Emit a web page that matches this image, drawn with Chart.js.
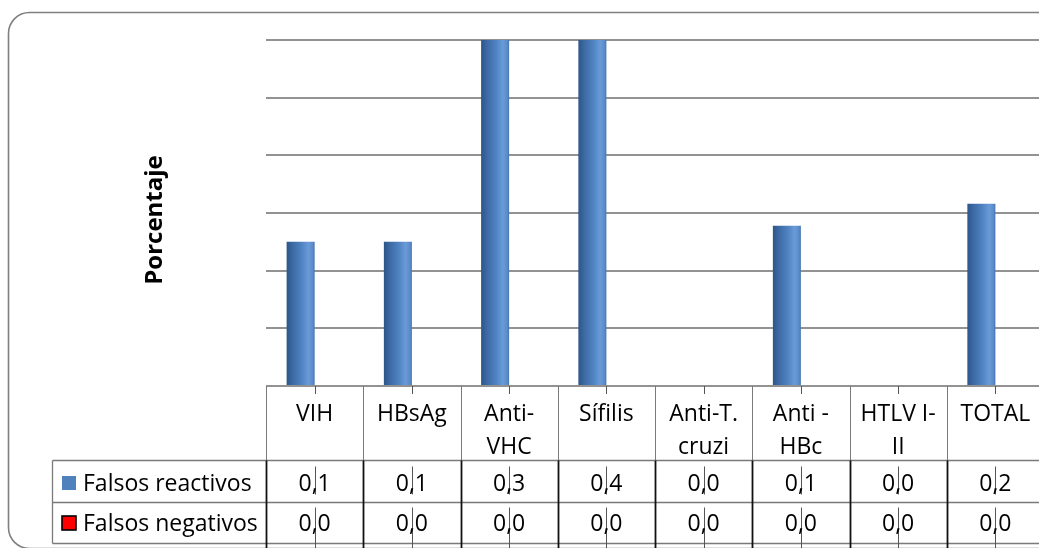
<!DOCTYPE html>
<html>
<head>
<meta charset="utf-8">
<script src="https://cdn.jsdelivr.net/npm/chart.js@4"></script>
<style>
  html, body { margin: 0; padding: 0; overflow: hidden; background: #fff; }
  #wrap { width: 1046px; height: 548px; }
</style>
</head>
<body>
<div id="wrap"><canvas id="chart" width="1046" height="548"></canvas></div>
<script>
// Categories (multi-line labels as shown in the table header)
const categories = [
  ['VIH'], ['HBsAg'], ['Anti-', 'VHC'], ['Sífilis'],
  ['Anti-T.', 'cruzi'], ['Anti -', 'HBc'], ['HTLV I-', 'II'], ['TOTAL']
];
// Percentages per test
const falsosReactivos = [0.125, 0.125, 0.32, 0.42, 0, 0.139, 0, 0.158];
const falsosNegativos = [0, 0, 0, 0, 0, 0, 0, 0];
const seriesNames = ['Falsos reactivos', 'Falsos negativos'];
const seriesColors = ['#4f81bd', '#ff0000'];
const yTitle = 'Porcentaje';
const yMin = 0, yMax = 0.3, yStep = 0.05;

const FONT = '"Open Sans", "Liberation Sans", sans-serif';
const CAT_PCT = 0.576;

// one decimal with a comma, as in the data table
const fmt = v => v.toFixed(1).replace('.', ',');

// cylinder-like horizontal shading for the blue bars
function barFill(c) {
  const chart = c.chart;
  const xs = chart.scales && chart.scales.x;
  if (!xs || c.type !== 'data' || !xs.width) return seriesColors[0];
  const cw = xs.width / categories.length;
  const bw = cw * CAT_PCT / 2;
  const cx = xs.getPixelForValue(c.dataIndex);
  const left = cx - bw;
  const g = chart.ctx.createLinearGradient(left, 0, left + bw, 0);
  g.addColorStop(0, '#2d5587');
  g.addColorStop(0.18, '#3a67a1');
  g.addColorStop(0.55, '#5184c3');
  g.addColorStop(0.78, '#6a9bd8');
  g.addColorStop(0.93, '#5b8bca');
  g.addColorStop(1, '#4574ad');
  return g;
}

const frame = {
  id: 'frame',
  beforeDraw(chart) {
    const ctx = chart.ctx;
    ctx.save();
    ctx.fillStyle = '#fff';
    ctx.fillRect(0, 0, chart.width, chart.height);
    ctx.strokeStyle = '#7f7f7f';
    ctx.lineWidth = 1.6;
    ctx.beginPath();
    ctx.roundRect(8.5, 12.5, 1060, 536, 21);
    ctx.stroke();
    ctx.restore();
  }
};

const dataTable = {
  id: 'dataTable',
  afterDraw(chart) {
    const ctx = chart.ctx;
    const xs = chart.scales.x;
    const area = chart.chartArea;
    const n = categories.length;
    const L = area.left, R = area.right, B = area.bottom;
    const cw = (R - L) / n;
    const headBottom = 460.5, row1Bottom = 502.5, row2Bottom = 543.5;
    const legLeft = 52.5;
    const W = chart.width, H = chart.height;

    ctx.save();
    // header row verticals
    ctx.strokeStyle = '#7a7a7a';
    ctx.lineWidth = 1;
    for (let i = 0; i <= n; i++) {
      const x = Math.round(L + i * cw) + 0.5;
      ctx.beginPath(); ctx.moveTo(x, B); ctx.lineTo(x, headBottom); ctx.stroke();
    }
    // centre ticks under the axis
    ctx.strokeStyle = '#555';
    for (let i = 0; i < n; i++) {
      const x = Math.round(xs.getPixelForValue(i)) + 0.5;
      ctx.beginPath(); ctx.moveTo(x, B); ctx.lineTo(x, B + 8); ctx.stroke();
    }
    // horizontals
    ctx.strokeStyle = '#7a7a7a';
    ctx.lineWidth = 1.3;
    [headBottom, row1Bottom, row2Bottom].forEach(y => {
      ctx.beginPath(); ctx.moveTo(legLeft, y); ctx.lineTo(W, y); ctx.stroke();
    });
    ctx.beginPath(); ctx.moveTo(legLeft, headBottom); ctx.lineTo(legLeft, row2Bottom); ctx.stroke();
    // value rows verticals
    ctx.strokeStyle = '#111';
    ctx.lineWidth = 1.8;
    for (let i = 0; i <= n; i++) {
      const x = Math.round(L + i * cw) + 0.5;
      ctx.beginPath(); ctx.moveTo(x, headBottom); ctx.lineTo(x, H); ctx.stroke();
    }
    ctx.strokeStyle = '#555';
    ctx.lineWidth = 1;
    for (let i = 0; i < n; i++) {
      const x = Math.round(xs.getPixelForValue(i)) + 0.5;
      ctx.beginPath(); ctx.moveTo(x, headBottom + 6); ctx.lineTo(x, row1Bottom - 8); ctx.stroke();
      ctx.beginPath(); ctx.moveTo(x, row1Bottom + 5); ctx.lineTo(x, H); ctx.stroke();
    }

    // header labels
    ctx.fillStyle = '#000';
    ctx.font = '23px ' + FONT;
    ctx.textAlign = 'center';
    ctx.textBaseline = 'alphabetic';
    const labels = chart.data.labels;
    labels.forEach((lab, i) => {
      const cx = xs.getPixelForValue(i);
      lab.forEach((line, k) => ctx.fillText(line, cx, 421 + k * 33));
    });
    // values
    chart.data.datasets.forEach((ds, d) => {
      const base = d === 0 ? 491 : 531;
      ds.data.forEach((v, i) => ctx.fillText(fmt(v), xs.getPixelForValue(i), base));
    });

    // legend cells
    ctx.textAlign = 'left';
    ctx.fillStyle = seriesColors[0];
    ctx.fillRect(62, 476, 14, 14);
    ctx.fillStyle = seriesColors[1];
    ctx.fillRect(62, 516, 14, 14);
    ctx.strokeStyle = '#000';
    ctx.lineWidth = 1.6;
    ctx.strokeRect(62, 516, 14, 14);
    ctx.fillStyle = '#000';
    ctx.fillText(seriesNames[0], 83, 491);
    ctx.fillText(seriesNames[1], 83, 531);

    // y axis title
    ctx.save();
    ctx.translate(162, 220);
    ctx.rotate(-Math.PI / 2);
    ctx.font = 'bold 24px ' + FONT;
    ctx.textAlign = 'center';
    ctx.fillText(yTitle, 0, 0);
    ctx.restore();

    ctx.restore();
  }
};

new Chart(document.getElementById('chart'), {
  type: 'bar',
  data: {
    labels: categories,
    datasets: [
      { label: seriesNames[0], data: falsosReactivos, backgroundColor: barFill, borderWidth: 0, clip: 0 },
      { label: seriesNames[1], data: falsosNegativos, backgroundColor: seriesColors[1], borderWidth: 0, clip: 0 }
    ]
  },
  options: {
    responsive: false,
    animation: false,
    devicePixelRatio: 1,
    categoryPercentage: CAT_PCT,
    barPercentage: 1,
    layout: { padding: { left: 266, right: 2, top: 40, bottom: 162 } },
    plugins: { legend: { display: false }, tooltip: { enabled: false }, title: { display: false } },
    scales: {
      x: {
        ticks: { display: false },
        grid: { display: false, drawTicks: false },
        border: { display: false },
        afterFit(s) { s.height = 0; }
      },
      y: {
        min: yMin, max: yMax,
        ticks: { display: false, stepSize: yStep },
        grid: { color: '#929292', lineWidth: 2, drawTicks: false },
        border: { display: false },
        afterFit(s) { s.width = 0; }
      }
    }
  },
  plugins: [frame, dataTable]
});
</script>
</body>
</html>
